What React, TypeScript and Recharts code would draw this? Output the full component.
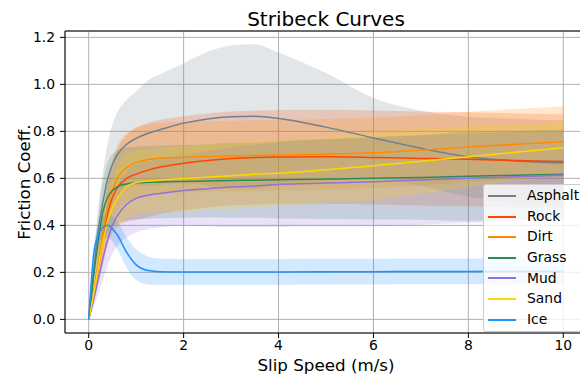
import React from 'react';
import { ComposedChart, Area, Line, XAxis, YAxis, CartesianGrid, ReferenceLine, Legend, Label } from 'recharts';

// slip speed samples (m/s)
const slipSpeed = [0, 0.1, 0.2, 0.3, 0.4, 0.5, 0.6, 0.8, 1.0, 1.25, 1.5, 2, 2.5, 3, 3.5, 4, 5, 6, 7, 8, 9, 10];

// mean friction coefficient per surface
const asphaltMean = [0, 0.2, 0.38, 0.5, 0.6, 0.66, 0.7, 0.745, 0.77, 0.792, 0.807, 0.835, 0.853, 0.862, 0.864, 0.855, 0.818, 0.772, 0.728, 0.692, 0.674, 0.666];
const rockMean = [0, 0.1, 0.22, 0.33, 0.45, 0.52, 0.56, 0.6, 0.618, 0.635, 0.648, 0.664, 0.676, 0.684, 0.689, 0.691, 0.692, 0.689, 0.685, 0.681, 0.676, 0.672];
const dirtMean = [0, 0.11, 0.24, 0.37, 0.48, 0.55, 0.6, 0.645, 0.668, 0.68, 0.686, 0.69, 0.693, 0.695, 0.697, 0.699, 0.703, 0.709, 0.72, 0.733, 0.745, 0.756];
const grassMean = [0, 0.18, 0.33, 0.46, 0.52, 0.548, 0.564, 0.576, 0.581, 0.583, 0.585, 0.587, 0.589, 0.591, 0.592, 0.594, 0.597, 0.6, 0.604, 0.609, 0.613, 0.617];
const mudMean = [0, 0.08, 0.17, 0.26, 0.34, 0.4, 0.44, 0.49, 0.515, 0.528, 0.536, 0.548, 0.556, 0.563, 0.568, 0.574, 0.58, 0.586, 0.593, 0.6, 0.607, 0.614];
const sandMean = [0, 0.1, 0.22, 0.33, 0.42, 0.475, 0.515, 0.564, 0.582, 0.589, 0.593, 0.599, 0.605, 0.611, 0.617, 0.622, 0.637, 0.654, 0.673, 0.692, 0.711, 0.73];
const iceMean = [0, 0.27, 0.36, 0.39, 0.4, 0.385, 0.36, 0.285, 0.232, 0.208, 0.203, 0.202, 0.202, 0.202, 0.202, 0.202, 0.203, 0.203, 0.204, 0.204, 0.205, 0.205];

// standard deviation per surface
const asphaltStd = [0, 0.05, 0.1, 0.13, 0.15, 0.17, 0.18, 0.19, 0.2, 0.225, 0.235, 0.255, 0.285, 0.303, 0.307, 0.28, 0.23, 0.17, 0.16, 0.17, 0.18, 0.18];
const rockStd = [0, 0.03, 0.07, 0.1, 0.13, 0.15, 0.165, 0.185, 0.195, 0.2, 0.2, 0.2, 0.2, 0.2, 0.2, 0.2, 0.2, 0.2, 0.2, 0.2, 0.2, 0.2];
const dirtStd = [0, 0.03, 0.07, 0.1, 0.12, 0.13, 0.14, 0.145, 0.15, 0.15, 0.15, 0.15, 0.15, 0.15, 0.15, 0.15, 0.15, 0.15, 0.15, 0.15, 0.15, 0.15];
const grassStd = [0, 0.05, 0.1, 0.13, 0.15, 0.155, 0.155, 0.155, 0.155, 0.155, 0.155, 0.155, 0.155, 0.16, 0.16, 0.165, 0.17, 0.175, 0.18, 0.19, 0.19, 0.19];
const mudStd = [0, 0.03, 0.06, 0.09, 0.11, 0.12, 0.13, 0.14, 0.145, 0.145, 0.145, 0.15, 0.16, 0.17, 0.175, 0.18, 0.185, 0.19, 0.19, 0.19, 0.19, 0.19];
const sandStd = [0, 0.03, 0.06, 0.09, 0.11, 0.12, 0.13, 0.135, 0.135, 0.135, 0.135, 0.14, 0.14, 0.14, 0.14, 0.14, 0.14, 0.145, 0.14, 0.13, 0.12, 0.11];
const iceStd = [0, 0.03, 0.04, 0.045, 0.05, 0.055, 0.06, 0.065, 0.065, 0.06, 0.056, 0.055, 0.055, 0.055, 0.055, 0.055, 0.055, 0.055, 0.055, 0.055, 0.055, 0.055];

const xTicks = [0, 2, 4, 6, 8, 10];
const yTicks = [0, 0.2, 0.4, 0.6, 0.8, 1.0, 1.2];
const xDomain = [-0.5, 10.5];
const yDomain = [-0.058, 1.227];

const series = [
  { key: 'asphalt', name: 'Asphalt', color: '#708090', mean: asphaltMean, std: asphaltStd },
  { key: 'rock', name: 'Rock', color: '#ff4500', mean: rockMean, std: rockStd },
  { key: 'dirt', name: 'Dirt', color: '#ff8c00', mean: dirtMean, std: dirtStd },
  { key: 'grass', name: 'Grass', color: '#2e8b57', mean: grassMean, std: grassStd },
  { key: 'mud', name: 'Mud', color: '#9370db', mean: mudMean, std: mudStd },
  { key: 'sand', name: 'Sand', color: '#ffd700', mean: sandMean, std: sandStd },
  { key: 'ice', name: 'Ice', color: '#1e90ff', mean: iceMean, std: iceStd },
];

const data = slipSpeed.map((x, i) => {
  const row: Record<string, any> = { x };
  series.forEach((s) => {
    row[s.key] = s.mean[i];
    row[s.key + 'Band'] = [s.mean[i] - s.std[i], s.mean[i] + s.std[i]];
  });
  return row;
});

const FONT = '"DejaVu Sans", sans-serif';

const LegendBox = () => (
  <div
    style={{
      width: 103,
      height: 148,
      boxSizing: 'border-box',
      background: 'rgba(255,255,255,0.8)',
      border: '1px solid #cccccc',
      borderRadius: 3,
      paddingTop: 1,
      fontFamily: FONT,
      fontSize: 13.9,
      color: '#000',
    }}
  >
    {series.map((s) => (
      <div key={s.key} style={{ height: 20.55, display: 'flex', alignItems: 'center' }}>
        <div style={{ marginLeft: 4, width: 28, height: 2, background: s.color }} />
        <span style={{ marginLeft: 11, lineHeight: 1 }}>{s.name}</span>
      </div>
    ))}
  </div>
);

export default function App() {
  return (
    <div style={{ position: 'relative', width: 588, height: 374, margin: '-8px 0 0 -8px', background: '#fff', fontFamily: FONT }}>
      <svg width={588} height={40} style={{ position: 'absolute', left: 0, top: 0 }}>
        <text x={326} y={26} textAnchor="middle" fontFamily={FONT} fontSize={20} fill="#000">
          Stribeck Curves
        </text>
      </svg>
      <ComposedChart width={588} height={374} data={data} margin={{ top: 31, right: 1, bottom: 0, left: 0 }}>
        <CartesianGrid stroke="#b0b0b0" strokeWidth={1} />
        {series.map((s) => (
          <Area
            key={s.key + 'Band'}
            dataKey={s.key + 'Band'}
            type="monotone"
            stroke="none"
            fill={s.color}
            fillOpacity={0.2}
            isAnimationActive={false}
            legendType="none"
            activeDot={false}
          />
        ))}
        {series.map((s) => (
          <Line
            key={s.key}
            dataKey={s.key}
            name={s.name}
            type="monotone"
            stroke={s.color}
            strokeWidth={1.5}
            dot={false}
            activeDot={false}
            isAnimationActive={false}
          />
        ))}
        <ReferenceLine y={yDomain[1]} stroke="#000" strokeWidth={1} />
        <ReferenceLine x={xDomain[1]} stroke="#000" strokeWidth={1} />
        <XAxis
          dataKey="x"
          type="number"
          domain={xDomain}
          ticks={xTicks}
          allowDataOverflow
          height={41}
          stroke="#000"
          tickSize={5}
          tickMargin={2}
          tick={{ fill: '#000', fontSize: 13.9, fontFamily: FONT }}
        >
          <Label value="Slip Speed (m/s)" position="insideBottom" offset={3} fill="#000" fontSize={16.7} fontFamily={FONT} />
        </XAxis>
        <YAxis
          type="number"
          domain={yDomain}
          ticks={yTicks}
          allowDataOverflow
          width={65}
          stroke="#000"
          tickSize={5}
          tickMargin={5}
          tickFormatter={(v: number) => v.toFixed(1)}
          tick={{ fill: '#000', fontSize: 13.9, fontFamily: FONT }}
        >
          <Label
            content={() => (
              <text x={30} y={182} transform="rotate(-90 30 182)" textAnchor="middle" fontSize={16.7} fontFamily={FONT} fill="#000">
                Friction Coeff.
              </text>
            )}
          />
        </YAxis>
        <Legend
          layout="vertical"
          align="center"
          verticalAlign="middle"
          content={() => <LegendBox />}
          wrapperStyle={{ left: 483, top: 184, width: 103, height: 148 }}
        />
      </ComposedChart>
    </div>
  );
}
